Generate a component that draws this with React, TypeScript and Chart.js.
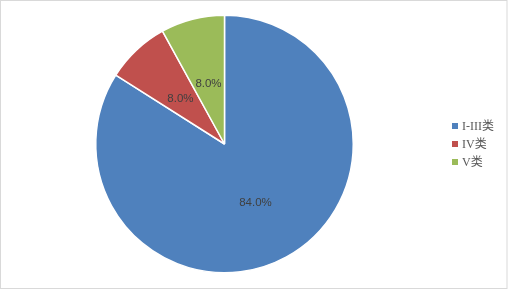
import React, { useEffect, useRef } from "react";
import { Chart, registerables } from "chart.js";

Chart.register(...registerables);

const categories = ["I-III类", "IV类", "V类"];
const values = [84.0, 8.0, 8.0];
const colors = ["#4F81BD", "#C0504D", "#9BBB59"];

const overlayPlugin = {
  id: "overlay",
  afterDraw(chart: any) {
    const ctx = chart.ctx;
    const meta = chart.getDatasetMeta(0);
    const total = values.reduce((a, b) => a + b, 0);
    ctx.save();
    // percentage labels
    ctx.font = "11.5px 'Liberation Sans', 'DejaVu Sans', sans-serif";
    ctx.fillStyle = "#404040";
    ctx.textAlign = "center";
    ctx.textBaseline = "middle";
    meta.data.forEach((arc: any, i: number) => {
      const p = arc.getProps(["x", "y", "startAngle", "endAngle", "outerRadius"], true);
      const mid = (p.startAngle + p.endAngle) / 2;
      const r = p.outerRadius * 0.5;
      const x = p.x + Math.cos(mid) * r;
      const y = p.y + Math.sin(mid) * r + 2;
      ctx.fillText(((values[i] / total) * 100).toFixed(1) + "%", x, y);
    });
    // legend
    ctx.textAlign = "left";
    ctx.font = "12px 'Liberation Serif', 'Noto Sans CJK SC', serif";
    categories.forEach((c, i) => {
      const y = 126 + i * 18;
      ctx.fillStyle = colors[i];
      ctx.fillRect(452, y - 3, 6, 6);
      ctx.fillStyle = "#595959";
      ctx.fillText(c, 462, y + 1);
    });
    // border
    ctx.strokeStyle = "#D9D9D9";
    ctx.lineWidth = 1;
    ctx.strokeRect(0.5, 0.5, 506.5, 288);
    ctx.restore();
  },
};

export default function App() {
  const ref = useRef<HTMLCanvasElement | null>(null);
  useEffect(() => {
    document.body.style.margin = "0";
    const chart = new Chart(ref.current as HTMLCanvasElement, {
      type: "pie",
      data: {
        labels: categories,
        datasets: [
          {
            data: values,
            backgroundColor: colors,
            borderColor: "#FFFFFF",
            borderWidth: 1.5,
          },
        ],
      },
      options: {
        animation: false,
        responsive: false,
        events: [],
        layout: { padding: { left: 95, right: 154, top: 14, bottom: 16 } },
        plugins: {
          legend: { display: false },
          tooltip: { enabled: false },
        },
      },
      plugins: [overlayPlugin],
    });
    return () => chart.destroy();
  }, []);
  return (
    <div style={{ position: "absolute", left: 0, top: 0, width: 508, height: 290, background: "#fff" }}>
      <canvas ref={ref} width={508} height={290} style={{ width: 508, height: 290 }} />
    </div>
  );
}
